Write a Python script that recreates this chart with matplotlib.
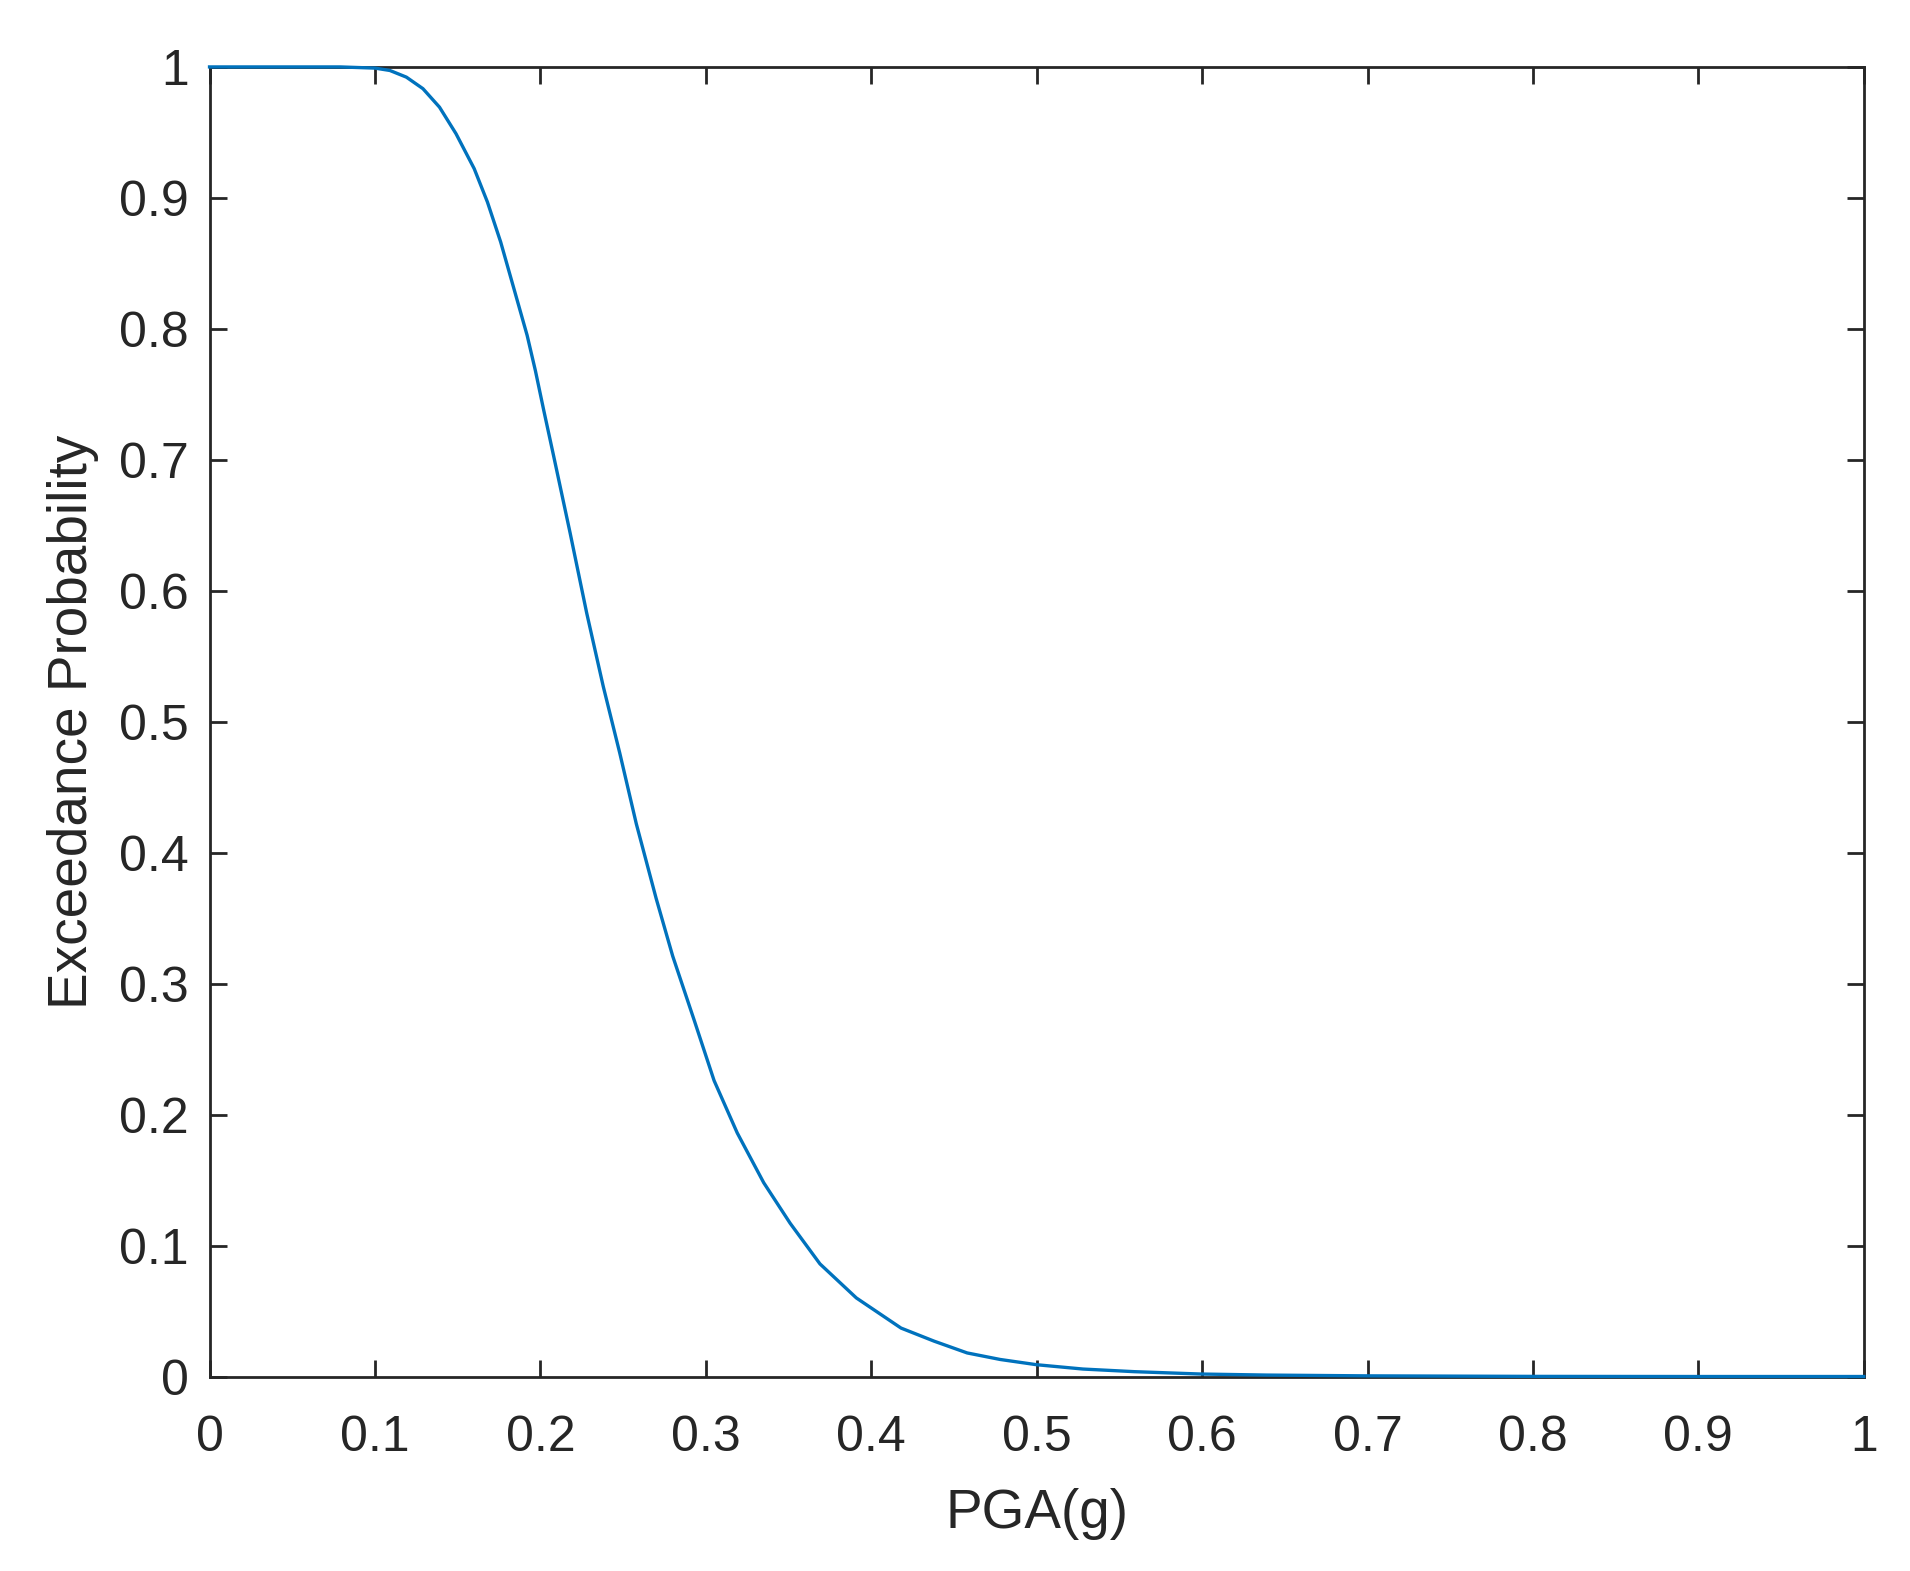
import matplotlib
matplotlib.use("Agg")
import matplotlib.pyplot as plt

# exceedance curve
pga = [0.0, 0.05, 0.079, 0.100, 0.109, 0.119, 0.129, 0.139, 0.149, 0.160,
       0.168, 0.176, 0.184, 0.192, 0.197, 0.202, 0.208, 0.218, 0.228, 0.238,
       0.248, 0.258, 0.270, 0.280, 0.293, 0.305, 0.319, 0.335, 0.351, 0.369,
       0.391, 0.418, 0.438, 0.458, 0.478, 0.500, 0.528, 0.559, 0.599, 0.639,
       0.700, 0.800, 0.900, 1.0]
prob = [1.0, 1.0, 1.0, 0.9991, 0.9973, 0.9922, 0.9834, 0.9693, 0.949, 0.9223,
        0.8968, 0.8663, 0.8307, 0.795, 0.768, 0.738, 0.703, 0.644, 0.583, 0.527,
        0.476, 0.422, 0.365, 0.321, 0.272, 0.226, 0.186, 0.148, 0.117, 0.086,
        0.060, 0.037, 0.027, 0.018, 0.013, 0.009, 0.0057, 0.0037, 0.0019, 0.0011,
        0.0005, 0.0001, 0.0, 0.0]

xticks = [0, 0.1, 0.2, 0.3, 0.4, 0.5, 0.6, 0.7, 0.8, 0.9, 1]
yticks = [0, 0.1, 0.2, 0.3, 0.4, 0.5, 0.6, 0.7, 0.8, 0.9, 1]
xlabels = ["0", "0.1", "0.2", "0.3", "0.4", "0.5", "0.6", "0.7", "0.8", "0.9", "1"]
ylabels = ["0", "0.1", "0.2", "0.3", "0.4", "0.5", "0.6", "0.7", "0.8", "0.9", "1"]

plt.rcParams["font.family"] = ["Liberation Sans", "DejaVu Sans"]

fig = plt.figure(figsize=(19.1, 15.71), dpi=100)
ax = fig.add_axes([0.1097, 0.1238, 0.8661, 0.8336])

# drawn over the box, like the MATLAB original
ax.plot(pga, prob, color="#0072BD", lw=2.4, zorder=3, clip_on=False)

ax.set_xlim(0, 1)
ax.set_ylim(0, 1)
ax.set_xticks(xticks)
ax.set_xticklabels(xlabels)
ax.set_yticks(yticks)
ax.set_yticklabels(ylabels)

dark = "#262626"
for s in ax.spines.values():
    s.set_color(dark)
    s.set_linewidth(2.0)
ax.tick_params(direction="in", length=12, width=2.0, color=dark,
               labelcolor=dark, labelsize=36, top=True, right=True)
ax.tick_params(axis="x", pad=28)
ax.tick_params(axis="y", pad=15)

ax.set_xlabel("PGA(g)", fontsize=39.5, color=dark, labelpad=19)
ax.set_ylabel("Exceedance Probability", fontsize=39.5, color=dark, labelpad=14)

fig.savefig("out.png", dpi=100)
